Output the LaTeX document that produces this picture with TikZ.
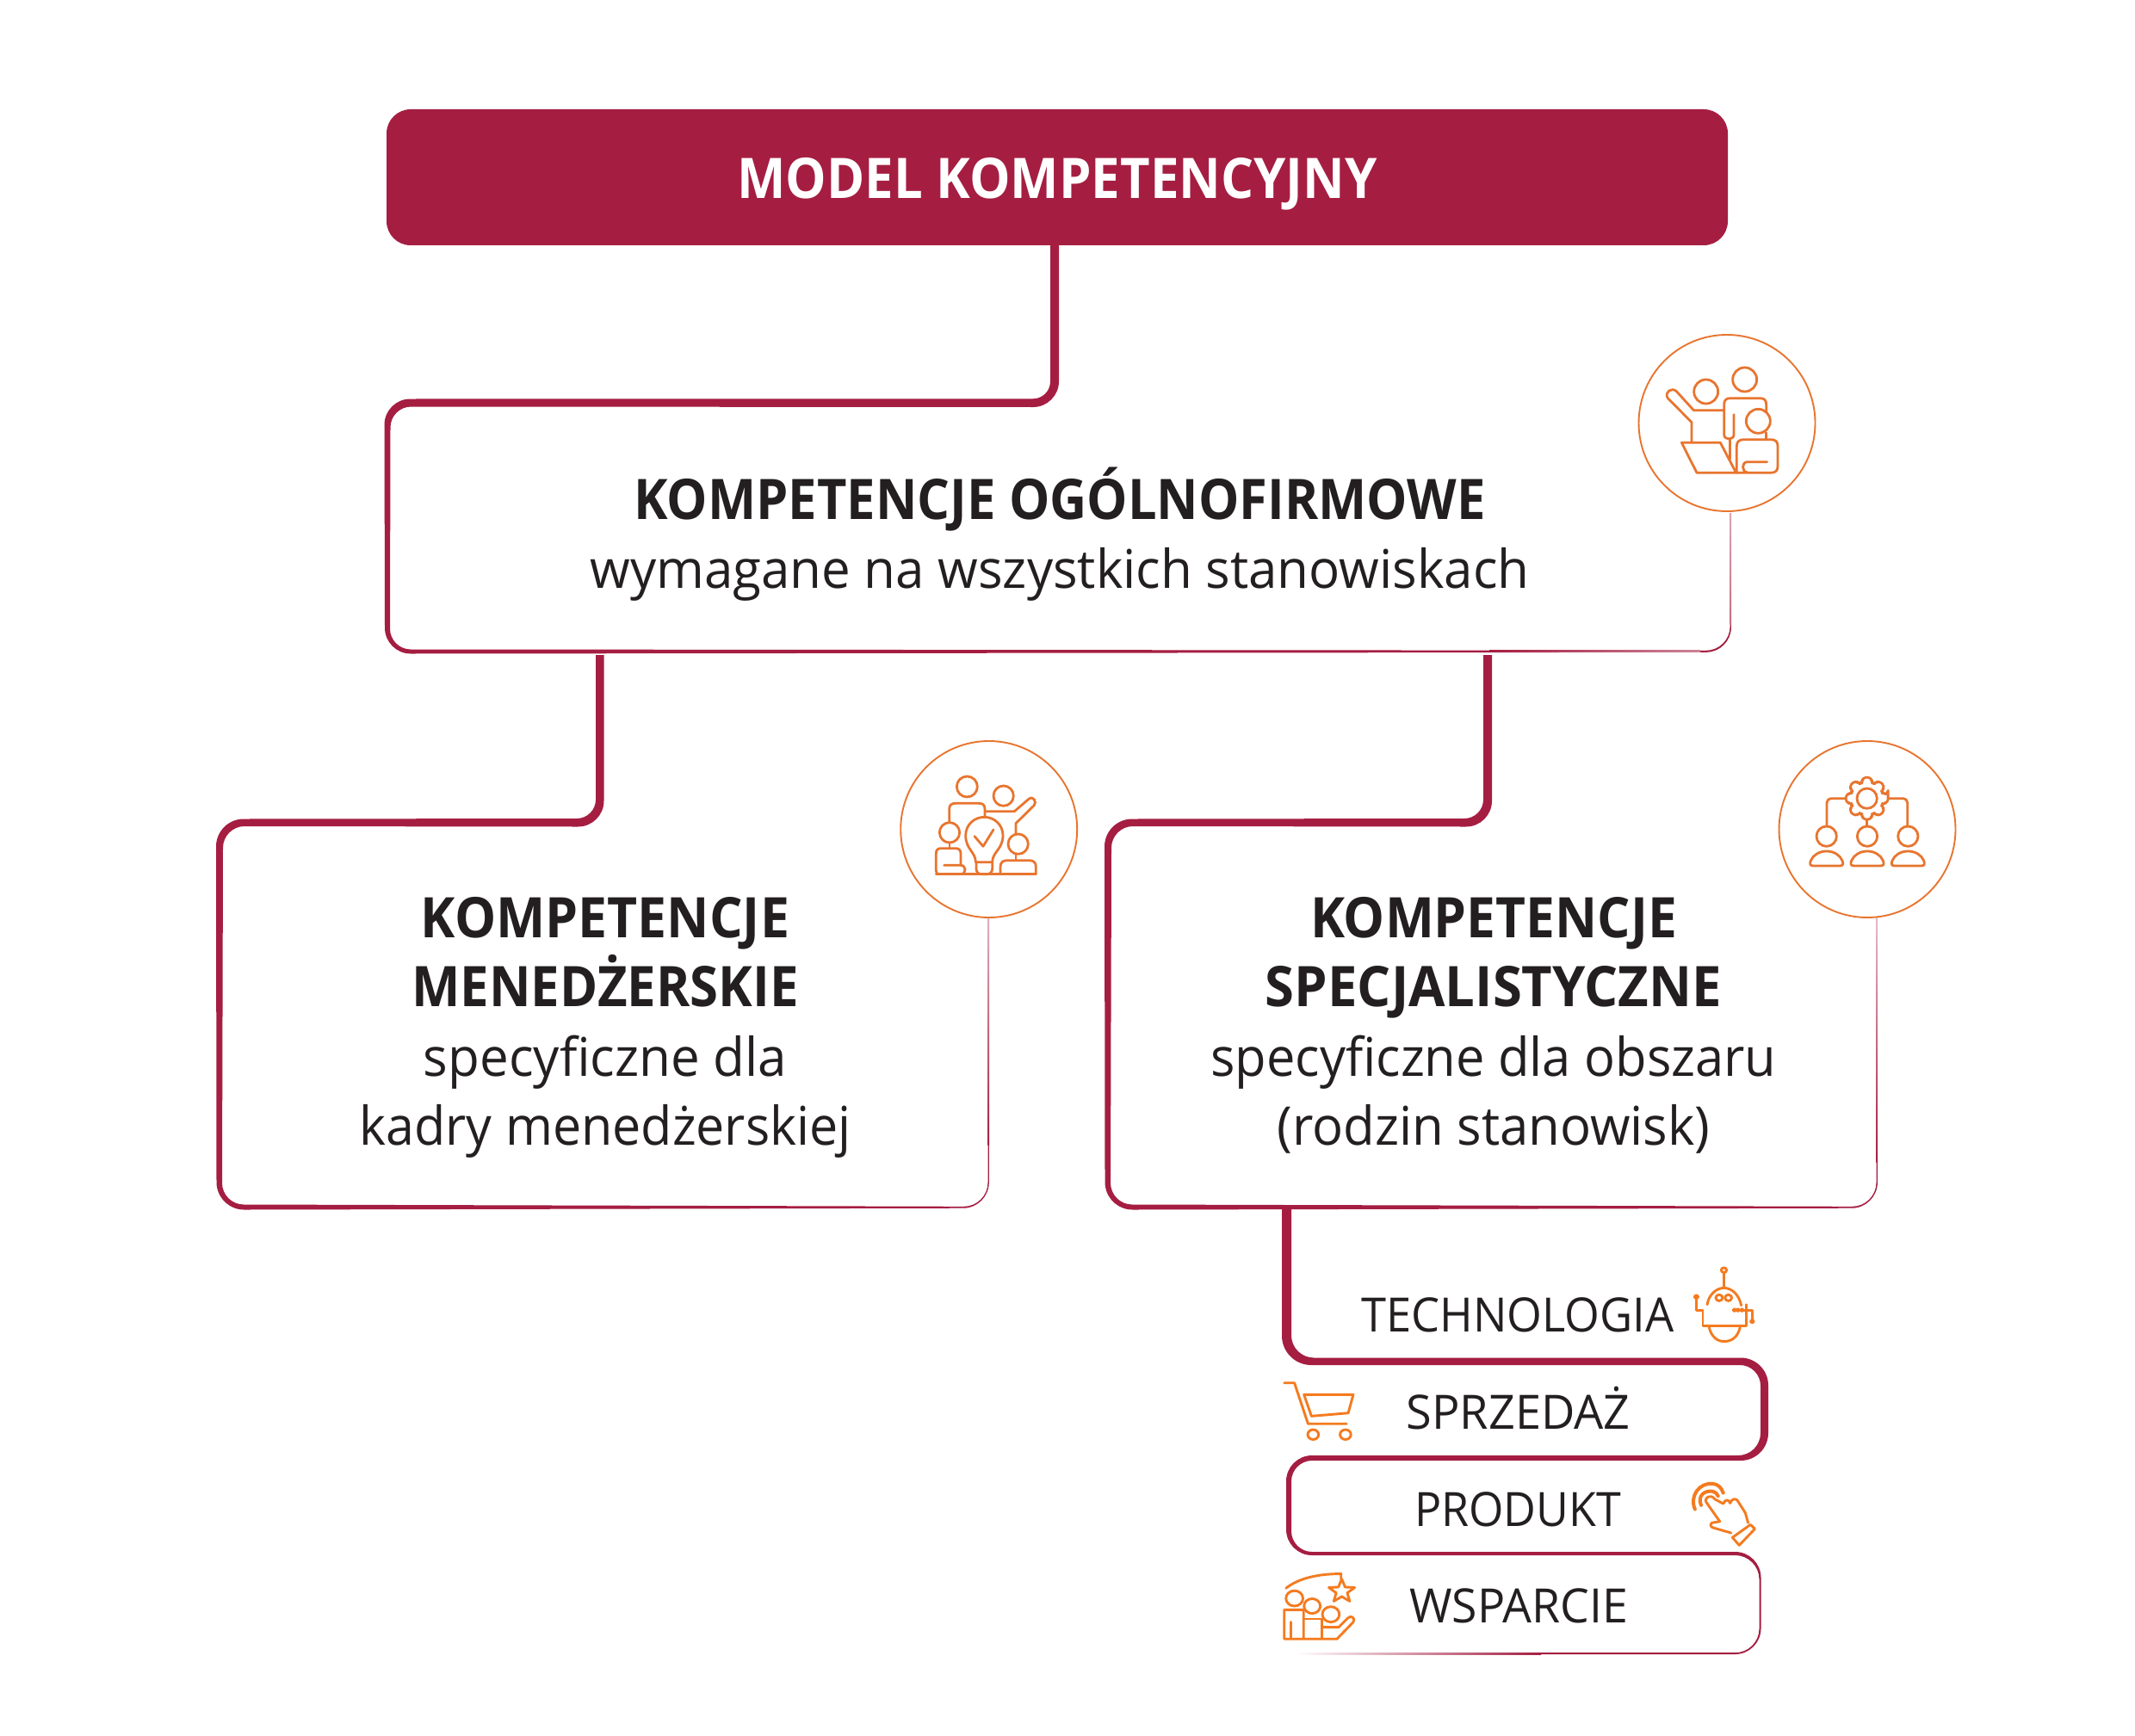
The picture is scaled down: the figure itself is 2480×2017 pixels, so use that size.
\documentclass[tikz,border=0pt]{standalone}
\usepackage{graphicx}
\usepackage{fontspec}
\setmainfont{Open Sans}
\definecolor{wine}{HTML}{A51E42}
\definecolor{ink}{HTML}{231F20}
\definecolor{icoA}{HTML}{E8752F}
\definecolor{icoB}{HTML}{F47B20}
\newcommand\fitw[2]{\resizebox{#1pt}{\height}{#2}}
\newcommand\cor[7]{-- ({#1-#3*#4},{#2-#3*#5}) .. controls ({#1-0.45*#3*#4},{#2-0.45*#3*#5}) and ({#1+0.45*#3*#6},{#2+0.45*#3*#7}) .. ({#1+#3*#6},{#2+#3*#7})}
\newcommand\fbold{\fontsize{65}{72}\selectfont\bfseries}
\newcommand\fbody{\fontsize{62}{70}\selectfont}
\newcommand\fsmall{\fontsize{55}{60}\selectfont}
\tikzset{
  lab/.style={inner sep=0pt,outer sep=0pt,anchor=base,text=ink,yshift=-1.8pt},
  ring/.style={circle,draw=icoA,line width=1.9pt,fill=white,minimum size=205pt,inner sep=0pt},
  ico/.style={draw=icoA,line width=2.8pt,line cap=round,line join=round},
  icb/.style={draw=icoB,line width=2.9pt,line cap=round,line join=round},
  band/.style={fill=wine,draw=none}
}
\begin{document}
\begin{tikzpicture}[x=1pt,y=-1pt]
\useasboundingbox[fill=white] (0,0) rectangle (2480,2017);

% title
\node[fill=wine,rounded corners=28pt,minimum width=1558pt,minimum height=158pt,inner sep=0pt,text=white,text height=50pt,text depth=0pt,font=\fontsize{65}{72}\selectfont\bfseries] (title) at (1228,206) {\fitw{743}{MODEL KOMPETENCYJNY}};

% band 1
\fill[band] (1230,285) \cor{1230}{473}{30}{0}{1}{-1}{0} \cor{453.5}{472.5}{24}{-1}{0}{0}{1} \cor{453}{754.5}{24}{0}{1}{1}{0} \cor{2009.6}{755.8}{28}{1}{0}{0}{-1} -- (2009.6,596) -- (2010.9,596) \cor{2010.9}{757.8}{29}{0}{1}{-1}{0} \cor{447}{759.5}{30}{-1}{0}{0}{-1} \cor{446.5}{463.5}{30}{0}{-1}{1}{0} \cor{1220}{463.3}{20}{1}{0}{0}{-1} -- (1220,285) -- cycle;
\shade[left color=wine,right color=wine!55!white] (1730,755.7) rectangle (1975,757.8);
\shade[top color=wine!40!white,bottom color=wine!65!white] (2009.4,596) rectangle (2011,725);

% band 2
\fill[band] (701.5,761) \cor{701.5}{960.5}{30}{0}{1}{-1}{0} \cor{259}{960}{25}{-1}{0}{0}{1} \cor{258}{1399.5}{25}{0}{1}{1}{0} \cor{1147.5}{1401.8}{28}{1}{0}{0}{-1} -- (1147.5,1066) -- (1148.8,1066) \cor{1148.8}{1403.7}{30}{0}{1}{-1}{0} \cor{251.5}{1405.5}{32}{-1}{0}{0}{-1} \cor{251}{951.5}{32}{0}{-1}{1}{0} \cor{692}{951}{22}{1}{0}{0}{-1} -- (692,761) -- cycle;
\shade[top color=wine!35!white,bottom color=wine] (1147.3,1066) rectangle (1149,1330);

% band 3
\fill[band] (1733,761) \cor{1733}{960.5}{30}{0}{1}{-1}{0} \cor{1291}{960}{25}{-1}{0}{0}{1} \cor{1290}{1399.5}{25}{0}{1}{1}{0} \cor{2179.5}{1401.8}{28}{1}{0}{0}{-1} -- (2179.5,1066) -- (2180.9,1066) \cor{2180.9}{1403.7}{30}{0}{1}{-1}{0} \cor{1283.5}{1405.5}{32}{-1}{0}{0}{-1} \cor{1283}{951.5}{32}{0}{-1}{1}{0} \cor{1723}{951}{22}{1}{0}{0}{-1} -- (1723,761) -- cycle;
\shade[top color=wine!30!white,bottom color=wine] (2179.3,1066) rectangle (2181,1350);

% band 4 (stacked list)
\fill[band] (1500,1405) \cor{1500}{1577.5}{26}{0}{1}{1}{0} \cor{2054}{1577.5}{32}{1}{0}{0}{1} \cor{2054}{1697}{32}{0}{1}{-1}{0} \cor{1500}{1697}{24}{-1}{0}{0}{1} \cor{1500}{1803}{24}{0}{1}{1}{0} \cor{2045.5}{1803}{30}{1}{0}{0}{1} \cor{2045.5}{1922}{30}{0}{1}{-1}{0} -- (1790,1922) -- (1790,1920.2) \cor{2043.5}{1920.2}{28}{1}{0}{0}{-1} \cor{2043.5}{1807}{28}{0}{-1}{-1}{0} \cor{1494}{1807}{30}{-1}{0}{0}{-1} \cor{1494}{1691}{30}{0}{-1}{1}{0} \cor{2045}{1691}{26}{1}{0}{0}{-1} \cor{2045}{1586}{24}{0}{-1}{-1}{0} \cor{1489}{1586}{34}{-1}{0}{0}{-1} -- (1489,1405) -- cycle;
\shade[left color=white,right color=wine] (1505,1920.2) rectangle (1790,1922);

% circles
\node[ring] (c1) at (2006,491.5) {};
\node[ring] (c2) at (1148.7,963.5) {};
\node[ring] (c3) at (2169,963.5) {};

% texts box 1
\node[lab] (a1) at (1231,601.7) {\fbold\fitw{989}{KOMPETENCJE OGÓLNOFIRMOWE}};
\node[lab] (a2) at (1231,681.7) {\fbody\fitw{1091}{wymagane na wszystkich stanowiskach}};
% texts box 2
\node[lab] (b1) at (703,1088) {\fbold\fitw{428}{KOMPETENCJE}};
\node[lab] (b2) at (703,1168) {\fbold\fitw{449}{MENEDŻERSKIE}};
\node[lab] (b3) at (703,1249) {\fbody\fitw{422}{specyficzne dla}};
\node[lab] (b4) at (703,1329) {\fbody\fitw{571}{kadry menedżerskiej}};
% texts box 3
\node[lab] (d1) at (1735,1088) {\fbold\fitw{426}{KOMPETENCJE}};
\node[lab] (d2) at (1735,1168) {\fbold\fitw{530}{SPECJALISTYCZNE}};
\node[lab] (d3) at (1735,1249) {\fbody\fitw{657}{specyficzne dla obszaru}};
\node[lab] (d4) at (1735,1329) {\fbody\fitw{503}{(rodzin stanowisk)}};
% list
\node[lab] (e1) at (1763,1545.4) {\fsmall\fitw{363}{TECHNOLOGIA}};
\node[lab] (e2) at (1763.5,1658.6) {\fsmall\fitw{260}{SPRZEDAŻ}};
\node[lab] (e3) at (1763,1772) {\fsmall\fitw{240}{PRODUKT}};
\node[lab] (e4) at (1764,1883.6) {\fsmall\fitw{254}{WSPARCIE}};

% icon 1
\begin{scope}[shift={(1860,370)},x=0.3333pt,y=-0.3333pt,ico]
\draw (365,255) circle (42);
\draw (500,213) circle (42);
\draw (315,432) -- (315,362) -- (232,278) .. controls (218,258) and (245,238) .. (262,254) -- (322,320) -- (425,320);
\draw (462,335) -- (462,405) .. controls (462,425) and (428,425) .. (428,405) -- (428,300) .. controls (428,285) and (435,278) .. (450,278) -- (553,278) .. controls (568,278) and (575,285) .. (575,300) -- (575,325);
\draw (575,398) -- (575,420);
\draw (547,358) circle (42);
\draw (280,433) -- (415,433) -- (470,538) -- (333,538) -- cycle;
\draw (448,420) -- (448,490);
\draw (470,538) -- (590,538) .. controls (608,538) and (615,530) .. (615,515) -- (615,445) .. controls (615,430) and (608,422) .. (590,422) -- (498,422) .. controls (480,422) and (472,430) .. (472,445) -- (472,538);
\draw (578,500) -- (510,500) .. controls (488,500) and (488,535) .. (510,537);
\end{scope}

% icon 2
\begin{scope}[shift={(1030,850)},x=0.3333pt,y=-0.3333pt,ico]
\draw (280,192) circle (36);
\draw (407,224) circle (35);
\draw (218,318) -- (218,270) .. controls (218,256) and (226,250) .. (240,250) -- (320,250) .. controls (335,250) and (342,256) .. (342,270) -- (342,298);
\draw (345,278) -- (445,278) -- (495,235) .. controls (510,222) and (525,245) .. (513,258) -- (450,320) -- (450,357);
\draw (219,352) circle (35);
\draw (219,387) -- (219,405);
\draw (258,466) -- (258,425) .. controls (258,412) and (250,407) .. (240,407) -- (190,407) .. controls (178,407) and (172,412) .. (172,425) -- (172,485) .. controls (172,492) and (175,497) .. (185,497);
\draw (200,466) -- (258,466) .. controls (278,466) and (278,497) .. (258,497);
\draw (310,455) .. controls (310,420) and (275,410) .. (275,362) .. controls (275,325) and (305,298) .. (340,298) .. controls (375,298) and (405,325) .. (405,362) .. controls (405,410) and (368,420) .. (368,455) -- cycle;
\draw (312,455) -- (312,478) .. controls (312,490) and (320,497) .. (330,497) -- (350,497) .. controls (360,497) and (368,490) .. (368,478) -- (368,455);
\draw (306,365) -- (336,400) -- (372,342);
\draw (458,392) circle (35);
\draw (450,428) -- (450,448);
\draw (396,497) -- (396,472) .. controls (396,456) and (405,449) .. (420,449) -- (495,449) .. controls (512,449) and (520,456) .. (520,472) -- (520,497);
\draw (172,497) -- (520,497);
\end{scope}

% icon 3
\begin{scope}[shift={(2060,850)},x=0.3333pt,y=-0.3333pt,ico]
\draw (326,233) circle (35);
\begin{scope}[shift={(326,233)}]
\draw[rounded corners=4] (-12:75) \foreach \a in {0,45,...,315} { -- (\a-12:75) -- (\a+12:75) -- (\a+16:57) -- (\a+29:57) } -- cycle;
\end{scope}
\draw[rounded corners=5] (252,233) -- (186,233) -- (186,330);
\draw[rounded corners=5] (400,233) -- (467,233) -- (467,330);
\draw (326,306) -- (326,330);
\foreach \c in {185,327,469} {
  \draw (\c,365) circle (35);
  \draw[xshift=\c*0.3333pt] (-47,468) .. controls (-60,468) and (-58,458) .. (-55,450) .. controls (-47,430) and (-25,417) .. (0,417) .. controls (25,417) and (47,430) .. (55,450) .. controls (58,458) and (60,468) .. (47,468) -- cycle;
}
\end{scope}

% list icons
\begin{scope}[shift={(1470,1390)},x=0.3953pt,y=-0.3571pt,icb]
% robot
\draw (1347,240) circle (8);
\draw (1347,248) -- (1347,298);
\draw (1298,352) .. controls (1302,320) and (1325,298) .. (1347,298) .. controls (1370,298) and (1392,320) .. (1398,355);
\draw (1333,330) circle (10);
\draw (1360,330) circle (10);
\draw (1285,375) -- (1285,422) -- (1412,422) -- (1412,352);
\draw[fill=icoB] (1378,370) circle (4) (1388,370) circle (4) (1400,370) circle (4);
\draw (1400,370) -- (1430,370) -- (1430,405);
\fill[icoB] (1430,407) circle (8);
\fill[icoB] (1266,327) circle (9);
\draw (1266,335) -- (1266,372) -- (1285,372);
\draw (1303,424) .. controls (1310,460) and (1330,472) .. (1348,472) .. controls (1368,472) and (1388,460) .. (1395,424);
% cart
\draw (55,607) -- (85,607) -- (125,740) -- (238,740);
\draw (113,645) -- (258,645) -- (243,705) -- (135,715) -- cycle;
\draw (140,775) circle (16);
\draw (235,775) circle (16);
% hand
\draw[line width=4pt] (1262,1018) .. controls (1245,975) and (1275,930) .. (1315,935) .. controls (1330,937) and (1340,948) .. (1345,965);
\draw[line width=4pt] (1280,1005) .. controls (1268,975) and (1290,955) .. (1315,960) .. controls (1322,962) and (1328,968) .. (1330,975);
\draw (1335,1058) -- (1295,995) .. controls (1288,978) and (1310,968) .. (1320,985) -- (1345,1000) .. controls (1350,985) and (1362,985) .. (1365,998) .. controls (1370,982) and (1385,980) .. (1390,995) -- (1410,1030) -- (1418,1062);
\draw (1335,1058) -- (1312,1062) .. controls (1305,1068) and (1308,1075) .. (1315,1078) -- (1368,1095);
\draw (1372,1110) -- (1425,1068) -- (1438,1082) -- (1392,1135) -- cycle;
% support
\draw (60,1275) .. controls (100,1240) and (160,1228) .. (222,1228) -- (222,1245);
\begin{scope}[shift={(224,1285)}]
\draw (-90:40) -- (-54:17) -- (-18:40) -- (18:17) -- (54:40) -- (90:17) -- (126:40) -- (162:17) -- (198:40) -- (234:17) -- cycle;
\end{scope}
\draw (85,1308) circle (25);
\draw (137,1333) circle (24);
\draw (192,1360) circle (25);
\draw (112,1438) -- (112,1345) -- (55,1345) -- (55,1440) -- (210,1440) -- (258,1385) .. controls (265,1370) and (250,1362) .. (242,1372) -- (215,1402) -- (165,1402);
\draw (112,1375) -- (165,1375) -- (165,1438);
\draw (75,1385) -- (75,1435);
\end{scope}
\end{tikzpicture}
\end{document}
